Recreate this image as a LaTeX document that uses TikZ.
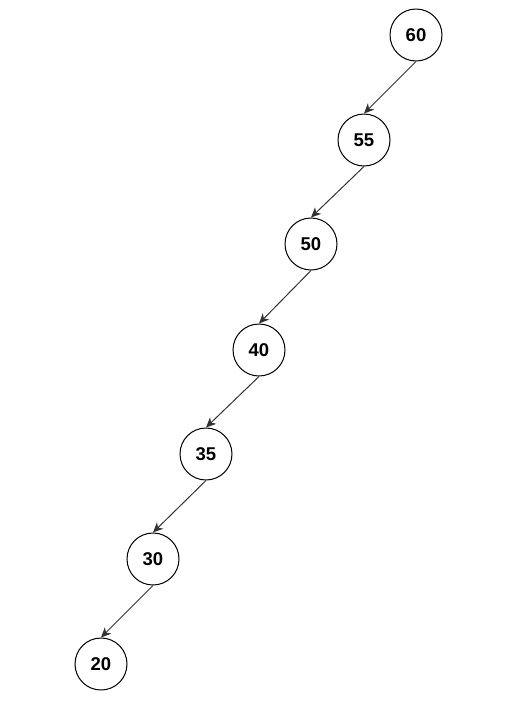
\documentclass[tikz,border=0pt]{standalone}
\usepackage{fontspec}
\setmainfont{Liberation Sans}
\usetikzlibrary{arrows.meta}
\begin{document}
\begin{tikzpicture}[x=1pt,y=-1pt,
  treenode/.style={circle,draw=black,line width=1pt,minimum size=52pt,inner sep=0pt,font=\fontsize{18.5}{18.5}\selectfont\bfseries},
  edge/.style={draw=black!80,line width=1pt,-{Stealth[length=10pt,width=9pt,inset=3pt]}}]
\useasboundingbox (0,0) rectangle (527,705);
\node[treenode] (n60) at (416,35) {60};
\node[treenode] (n55) at (364,140) {55};
\node[treenode] (n50) at (311,244) {50};
\node[treenode] (n40) at (259,350) {40};
\node[treenode] (n35) at (206,454) {35};
\node[treenode] (n30) at (153,559) {30};
\node[treenode] (n20) at (101,664) {20};
\draw[edge] (n60.south) -- (n55.north);
\draw[edge] (n55.south) -- (n50.north);
\draw[edge] (n50.south) -- (n40.north);
\draw[edge] (n40.south) -- (n35.north);
\draw[edge] (n35.south) -- (n30.north);
\draw[edge] (n30.south) -- (n20.north);
\end{tikzpicture}
\end{document}
